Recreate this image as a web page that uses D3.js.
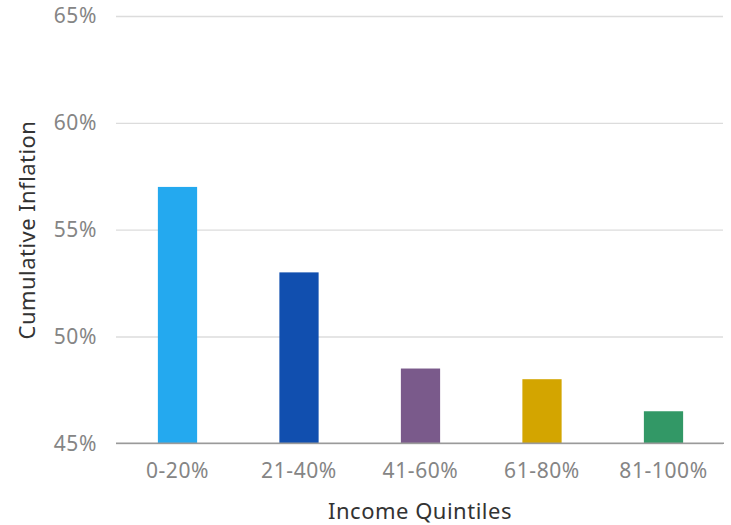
<!DOCTYPE html>
<html><head><meta charset="utf-8">
<script src="https://cdn.jsdelivr.net/npm/d3@7"></script>
<style>body{margin:0;background:#fff;} text{font-family:"Noto Sans",sans-serif;}</style>
</head><body><svg id="c" width="731" height="525"></svg>
<script>
const categories = ["0-20%","21-40%","41-60%","61-80%","81-100%"];
const values = [57, 53, 48.5, 48, 46.5];
const colors = ["#24a9ef","#114faf","#7a5a8b","#d3a500","#329866"];
const yTicks = [45, 50, 55, 60, 65];
const xTitle = "Income Quintiles";
const yTitle = "Cumulative Inflation";

const svg = d3.select("#c");
const x = d3.scaleBand().domain(categories).range([116.75, 724.25]).paddingInner(0.677).paddingOuter(0.3385);
const y = d3.scaleLinear().domain([45, 65]).range([443.3, 16]);

const yAxis = svg.append("g").attr("transform","translate(116,0)")
  .call(d3.axisLeft(y).tickValues(yTicks).tickSize(-607).tickPadding(19).tickFormat(d => d + "%"));
yAxis.select(".domain").remove();
yAxis.selectAll(".tick line").attr("stroke","#dcdcdc").attr("stroke-width",1.3);
yAxis.selectAll(".tick text").attr("fill","#858585").attr("font-size",21).attr("letter-spacing",0.6);

svg.append("g").selectAll("rect").data(values).join("rect")
  .attr("x",(d,i)=>x(categories[i])).attr("width",x.bandwidth())
  .attr("y",d=>y(d)).attr("height",d=>y(45)-y(d))
  .attr("fill",(d,i)=>colors[i]);

const xAxis = svg.append("g").attr("transform","translate(0,443.3)")
  .call(d3.axisBottom(x).tickSize(0).tickPadding(20));
xAxis.select(".domain").attr("stroke","#9a9a9a").attr("stroke-width",1.5).attr("d","M116,0H724");
xAxis.selectAll(".tick text").attr("fill","#858585").attr("font-size",21).attr("letter-spacing",0.6);

svg.append("text").attr("x",420).attr("y",519).attr("text-anchor","middle")
  .attr("fill","#333").attr("font-size",22).attr("letter-spacing",0.5).text(xTitle);
svg.append("text").attr("transform","translate(34.5,230) rotate(-90)").attr("text-anchor","middle")
  .attr("fill","#333").attr("font-size",22).attr("letter-spacing",0.45).text(yTitle);
</script></body></html>
